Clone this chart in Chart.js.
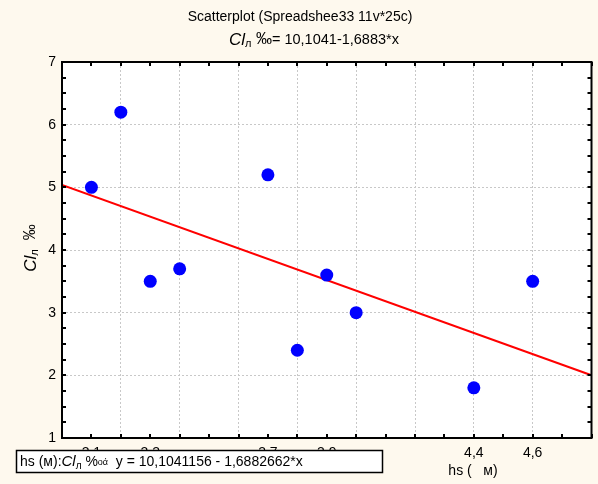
<!DOCTYPE html>
<html>
<head>
<meta charset="utf-8">
<script src="https://cdn.jsdelivr.net/npm/chart.js@4.4.0/dist/chart.umd.min.js"></script>
<style>
html, body { margin: 0; padding: 0; background: #fef9ee; }
#wrap { width: 598px; height: 484px; }
</style>
</head>
<body>
<div id="wrap"><canvas id="myChart" width="598" height="484"></canvas></div>
<script>
// hs (m) against Cl concentration
var hs = [3.1, 3.2, 3.3, 3.4, 3.7, 3.8, 3.9, 4.0, 4.4, 4.6];
var cl = [5.0, 6.2, 3.5, 3.7, 5.2, 2.4, 3.6, 3.0, 1.8, 3.5];

// axis ticks
var xLabelTicks = [3.1, 3.3, 3.7, 3.9, 4.4, 4.6];
var xGridTicks = [3.2, 3.4, 3.6, 3.8, 4.0, 4.2, 4.4, 4.6];
var yTicks = [1, 2, 3, 4, 5, 6, 7];
var xMin = 3.0, xMax = 4.8;

// fitted line y = a + b*x
var intercept = 10.1041156;
var slope = -1.6882662;

var FONT = 'Arial, "Liberation Sans", sans-serif';

function round1(v) { return Math.round(v * 10) / 10; }

var xAllTicks = xLabelTicks.concat(xGridTicks)
    .filter(function(v, i, arr) { return arr.indexOf(v) === i; })
    .sort(function(a, b) { return a - b; });

var points = hs.map(function(x, i) { return {x: x, y: cl[i]}; });
var fit = [xMin, xMax].map(function(x) { return {x: x, y: intercept + slope * x}; });

// draws a row of text pieces with their own fonts / vertical offsets
function drawRuns(c, runs, x, y, align) {
    var total = 0;
    runs.forEach(function(r) { c.font = r.font; r.w = c.measureText(r.t).width; total += r.w; });
    var cx = align === 'center' ? x - total / 2 : x;
    runs.forEach(function(r) {
        c.font = r.font;
        c.fillText(r.t, cx, y + (r.dy || 0));
        cx += r.w;
    });
}

// "Cl" with subscript "л"
function clRuns(size) {
    return [
        {t: 'Cl', font: 'italic ' + size + 'px ' + FONT},
        {t: 'л', font: Math.round(size * 0.65) + 'px ' + FONT, dy: 4}
    ];
}

var decor = {
    id: 'decor',
    beforeDraw: function(chart) {
        var a = chart.chartArea, c = chart.ctx;
        c.save();
        c.fillStyle = '#ffffff';
        c.fillRect(a.left, a.top, a.right - a.left, a.bottom - a.top);
        c.restore();
    },
    afterDraw: function(chart) {
        var a = chart.chartArea, c = chart.ctx;
        var xs = chart.scales.x, ys = chart.scales.y;
        c.save();

        // inward tick marks on all four sides
        c.strokeStyle = '#000';
        c.lineWidth = 2;
        c.beginPath();
        for (var i = 0; i <= 18; i++) {
            var px = Math.round(xs.getPixelForValue(xMin + i / 10));
            c.moveTo(px, a.top); c.lineTo(px, a.top + 4);
            c.moveTo(px, a.bottom); c.lineTo(px, a.bottom - 4);
        }
        for (var j = 0; j <= 24; j++) {
            var py = Math.round(ys.getPixelForValue(1 + j / 4));
            c.moveTo(a.left, py); c.lineTo(a.left + 4, py);
            c.moveTo(a.right, py); c.lineTo(a.right - 4, py);
        }
        c.stroke();

        // frame
        c.lineWidth = 2;
        c.strokeRect(a.left, a.top, a.right - a.left, a.bottom - a.top);

        // titles
        c.fillStyle = '#000';
        c.textBaseline = 'middle';
        c.textAlign = 'left';
        drawRuns(c, [{t: 'Scatterplot (Spreadshee33 11v*25c)', font: '14px ' + FONT}], 300, 17, 'center');
        drawRuns(c, clRuns(17).concat([
            {t: ' ‰', font: '16px ' + FONT},
            {t: '= 10,1041-1,6883*x', font: '14.5px ' + FONT}
        ]), 314, 40, 'center');

        // y axis title
        c.save();
        c.translate(31, 248);
        c.rotate(-Math.PI / 2);
        drawRuns(c, clRuns(17).concat([{t: '  ‰', font: '16px ' + FONT}]), 0, 0, 'center');
        c.restore();

        // x axis title
        drawRuns(c, [{t: 'hs (   м)', font: '14px ' + FONT}], 473, 471, 'center');

        // legend box
        c.fillStyle = '#fff';
        c.fillRect(16, 450, 366, 22);
        c.strokeStyle = '#000';
        c.lineWidth = 1.5;
        c.strokeRect(16.5, 450.5, 366, 22);
        c.fillStyle = '#000';
        drawRuns(c, [{t: 'hs (м):', font: '14px ' + FONT}].concat(clRuns(15)).concat([
            {t: ' %', font: '14px ' + FONT},
            {t: 'oά', font: '9px ' + FONT, dy: 1},
            {t: '  y = 10,1041156 - 1,6882662*x', font: '14px ' + FONT}
        ]), 20, 462, 'left');

        c.restore();
    }
};

var ctx = document.getElementById('myChart').getContext('2d');
var myChart = new Chart(ctx, {
    type: 'scatter',
    data: {
        datasets: [{
            label: 'Cl',
            data: points,
            backgroundColor: '#0000ff',
            borderWidth: 0,
            pointRadius: 6.5,
            order: 0
        }, {
            label: 'fit',
            data: fit,
            showLine: true,
            borderColor: '#ff0000',
            borderWidth: 2,
            pointRadius: 0,
            order: 1
        }]
    },
    options: {
        responsive: false,
        animation: false,
        events: [],
        layout: { padding: { top: 62, right: 4, left: 0, bottom: 0 } },
        plugins: {
            legend: { display: false },
            tooltip: { enabled: false }
        },
        scales: {
            x: {
                type: 'linear',
                min: xMin,
                max: xMax,
                afterFit: function(scale) { scale.height = 46; },
                afterBuildTicks: function(scale) {
                    scale.ticks = xAllTicks.map(function(v) { return {value: v}; });
                },
                ticks: {
                    autoSkip: false,
                    maxRotation: 0,
                    padding: 7,
                    color: '#000',
                    font: { family: FONT, size: 14 },
                    callback: function(value) {
                        return xLabelTicks.indexOf(round1(value)) >= 0 ? value.toFixed(1).replace('.', ',') : '';
                    }
                },
                grid: {
                    drawTicks: false,
                    color: function(c) {
                        return c.tick && xGridTicks.indexOf(round1(c.tick.value)) >= 0 ? '#c8c8c8' : 'rgba(0,0,0,0)';
                    }
                },
                border: { display: false, dash: [2, 2] }
            },
            y: {
                type: 'linear',
                min: 1,
                max: 7,
                afterFit: function(scale) { scale.width = 62; },
                afterBuildTicks: function(scale) {
                    scale.ticks = yTicks.map(function(v) { return {value: v}; });
                },
                ticks: {
                    padding: 6,
                    color: '#000',
                    font: { family: FONT, size: 14 },
                    callback: function(value) { return String(value); }
                },
                grid: { drawTicks: false, color: '#c8c8c8' },
                border: { display: false, dash: [2, 2] }
            }
        }
    },
    plugins: [decor]
});
</script>
</body>
</html>
